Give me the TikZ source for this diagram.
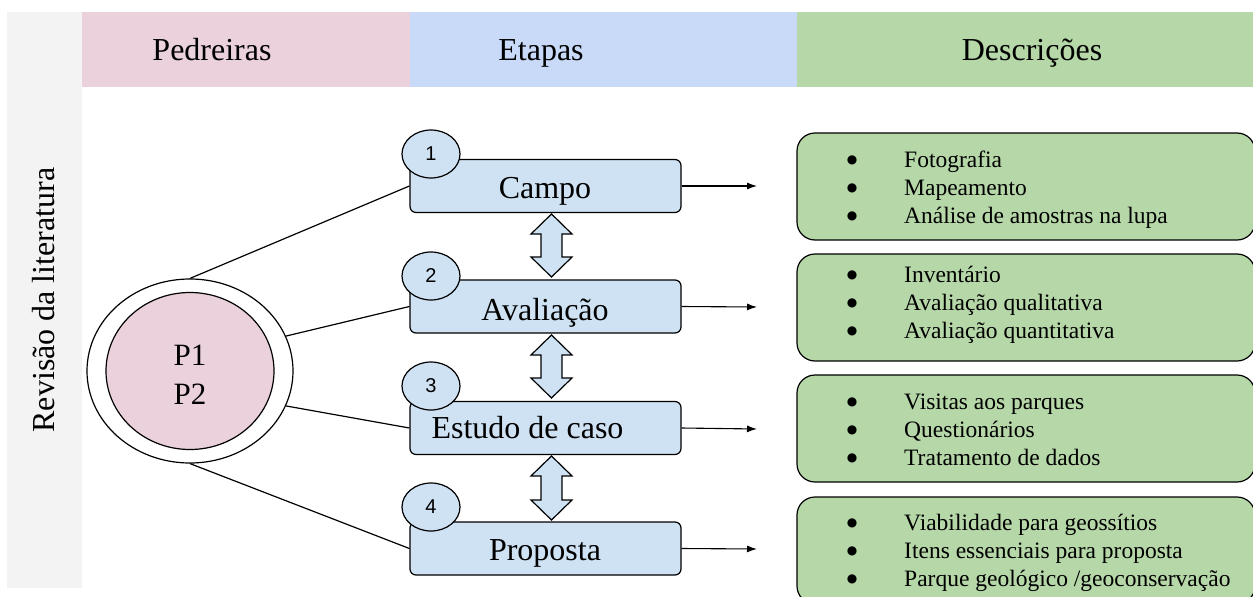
\documentclass[tikz,border=0pt]{standalone}
\usepackage{fontspec}
\setmainfont{Liberation Serif}
\newfontfamily\numfont{Liberation Sans}
\newfontfamily\symfont{DejaVu Sans}
\usetikzlibrary{shapes.geometric,arrows.meta}
\definecolor{graybg}{HTML}{F3F3F3}
\definecolor{pinkc}{HTML}{EAD1DC}
\definecolor{bluehead}{HTML}{C9DAF8}
\definecolor{greenc}{HTML}{B6D7A8}
\definecolor{stepblue}{HTML}{CFE2F3}
\newcommand{\fsz}[1]{\fontsize{#1}{#1}\selectfont}
\tikzset{
  headtext/.style={anchor=base, font=\fsz{32}},
  stepbox/.style={draw, line width=1.2pt, fill=stepblue, rounded corners=6pt,
    minimum width=271pt, minimum height=53pt, inner sep=0pt},
  steplabel/.style={anchor=base, font=\fsz{32}, inner sep=0pt},
  numcirc/.style={ellipse, draw, line width=1.2pt, fill=stepblue,
    minimum width=58pt, minimum height=48pt, inner sep=0pt, font=\numfont\fsz{20}},
  descbox/.style={draw, line width=1.2pt, fill=greenc, rounded corners=18pt,
    minimum width=458pt, minimum height=107pt, inner sep=0pt},
  desctext/.style={anchor=base west, font=\fsz{23.5}, inner sep=0pt},
  bul/.style={font=\symfont\fsz{12}, inner sep=0pt},
  link/.style={line width=1.2pt},
  outarrow/.style={line width=1.1pt, -{Latex[length=10pt,width=7pt]}},
  dblarrow/.style={draw, line width=1.2pt, fill=stepblue, line join=miter},
}
\newcommand{\dbl}[2]{%
  \path[dblarrow] (551.5,#1) -- (572,#1+20) -- (562,#1+20) -- (562,#2-20)
    -- (572,#2-20) -- (551.5,#2) -- (531,#2-20) -- (541,#2-20) -- (541,#1+20)
    -- (531,#1+20) -- cycle;}
\begin{document}
\begin{tikzpicture}[x=1pt,y=-1pt]
\useasboundingbox (0,0) rectangle (1253,597);
\clip (0,0) rectangle (1253,597);
\fill[white] (0,0) rectangle (1253,597);
% background bands
\fill[graybg] (7,12) rectangle (82,588);
\fill[pinkc] (82,12) rectangle (410,87);
\fill[bluehead] (410,12) rectangle (797,87);
\fill[greenc] (797,12) rectangle (1253,87);
\node[headtext] (h1) at (212,60) {Pedreiras};
\node[headtext] (h2) at (541,60) {Etapas};
\node[headtext] (h3) at (1032,60) {Descrições};
\node[rotate=90, font=\fsz{32}, inner sep=0pt] (rev) at (44,300) {Revisão da literatura};
% quarries
\node[ellipse, draw, line width=1.2pt, fill=white, minimum width=206pt, minimum height=184pt, inner sep=0pt] (outer) at (190,371) {};
\node[ellipse, draw, line width=1.2pt, fill=pinkc, minimum width=168pt, minimum height=157pt, inner sep=0pt] (inner) at (190,371) {};
\node[anchor=base, font=\fsz{31}, inner sep=0pt] (p1) at (190,365) {P1};
\node[anchor=base, font=\fsz{31}, inner sep=0pt] (p2) at (190,404) {P2};
% steps
\node[stepbox] (s1) at (545.5,186) {};
\node[stepbox] (s2) at (545.5,306.5) {};
\node[stepbox] (s3) at (545.5,428) {};
\node[stepbox] (s4) at (545.5,548.5) {};
\node[steplabel] (l1) at (545,198) {Campo};
\node[steplabel] (l2) at (545,320) {Avaliação};
\node[steplabel] (l3) at (527.5,438) {Estudo de caso};
\node[steplabel] (l4) at (545,560) {Proposta};
\node[numcirc] (n1) at (431,154) {1};
\node[numcirc] (n2) at (431,276) {2};
\node[numcirc] (n3) at (431,386) {3};
\node[numcirc] (n4) at (431,507) {4};
% links from quarries
\draw[link] (outer.north) -- (s1.west);
\draw[link] (outer.20) -- (s2.west);
\draw[link] (outer.-20) -- (s3.west);
\draw[link] (outer.south) -- (s4.west);
% double arrows
\dbl{214}{277}
\dbl{335}{398}
\dbl{456}{520}
% output arrows
\coordinate (e1) at (757,186);
\coordinate (e2) at (757,307);
\coordinate (e3) at (757,429);
\coordinate (e4) at (757,549);
\draw[outarrow] (s1.east) -- (e1);
\draw[outarrow] (s2.east) -- (e2);
\draw[outarrow] (s3.east) -- (e3);
\draw[outarrow] (s4.east) -- (e4);
% description boxes
\node[descbox] (d1) at (1026,186.5) {};
\node[descbox] (d2) at (1026,307.5) {};
\node[descbox] (d3) at (1026,428.5) {};
\node[descbox] (d4) at (1026,550.5) {};
% box 1
\node[bul] (b11) at (852,160) {●}; \node[desctext] (t11) at (904,167) {Fotografia};
\node[bul] (b12) at (852,188) {●}; \node[desctext] (t12) at (904,195) {Mapeamento};
\node[bul] (b13) at (852,216) {●}; \node[desctext] (t13) at (904,223) {Análise de amostras na lupa};
% box 2
\node[bul] (b21) at (852,275) {●}; \node[desctext] (t21) at (904,282) {Inventário};
\node[bul] (b22) at (852,303) {●}; \node[desctext] (t22) at (904,310) {Avaliação qualitativa};
\node[bul] (b23) at (852,331) {●}; \node[desctext] (t23) at (904,338) {Avaliação quantitativa};
% box 3
\node[bul] (b31) at (852,402) {●}; \node[desctext] (t31) at (904,409) {Visitas aos parques};
\node[bul] (b32) at (852,430) {●}; \node[desctext] (t32) at (904,437) {Questionários};
\node[bul] (b33) at (852,458) {●}; \node[desctext] (t33) at (904,465) {Tratamento de dados};
% box 4
\node[bul] (b41) at (852,523) {●}; \node[desctext] (t41) at (904,530) {Viabilidade para geossítios};
\node[bul] (b42) at (852,551) {●}; \node[desctext] (t42) at (904,558) {Itens essenciais para proposta};
\node[bul] (b43) at (852,579) {●}; \node[desctext] (t43) at (904,586) {Parque geológico /geoconservação};
\end{tikzpicture}
\end{document}
